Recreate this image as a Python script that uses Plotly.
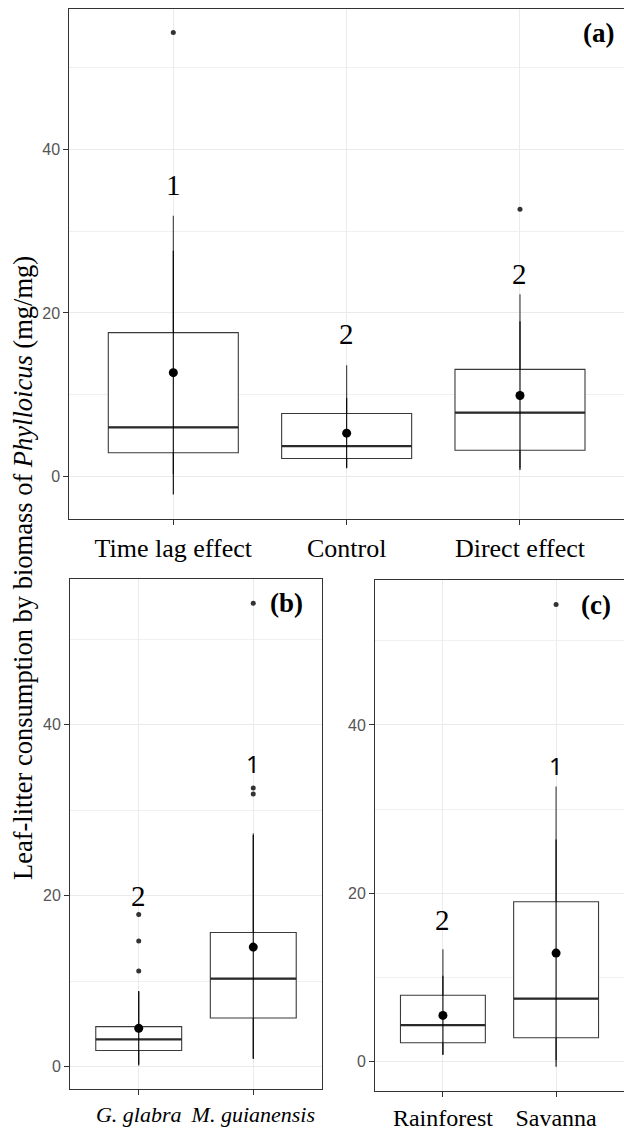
import plotly.graph_objects as go

# ---------------- data ----------------
# Panel (a)
a_cats = ["Time lag effect", "Control", "Direct effect"]
a_q1 = [2.9, 2.2, 3.2]
a_med = [6.0, 3.7, 7.8]
a_q3 = [17.6, 7.7, 13.1]
a_lo = [0.3, 1.1, 1.0]
a_hi = [31.9, 13.6, 22.3]
a_mean = [12.7, 5.3, 9.9]
a_sd = [14.9, 4.3, 9.1]
a_out = [[54.3], [], [32.7]]
a_letters = ["1", "2", "2"]
a_letter_y = [35.6, 17.4, 24.8]

# Panel (b)
b_cats = ["<i>G. glabra</i>", "<i>M. guianensis</i>"]
b_q1 = [1.9, 5.7]
b_med = [3.2, 10.3]
b_q3 = [4.7, 15.7]
b_lo = [0.3, 1.0]
b_hi = [8.8, 27.3]
b_mean = [4.5, 14.0]
b_sd = [4.35, 13.1]
b_out = [[11.2, 14.7, 17.8], [31.9, 32.6, 54.2]]
b_letters = ["2", "1"]
b_letter_y = [20.0, 35.5]

# Panel (c)
c_cats = ["Rainforest", "Savanna"]
c_q1 = [2.25, 2.85]
c_med = [4.35, 7.5]
c_q3 = [7.9, 19.0]
c_lo = [0.9, 0.2]
c_hi = [13.35, 32.7]
c_mean = [5.5, 12.9]
c_sd = [4.7, 13.5]
c_out = [[], [54.3]]
c_letters = ["2", "1"]
c_letter_y = [16.8, 35.2]

panel_tags = ["(a)", "(b)", "(c)"]
y_title = "Leaf-litter consumption by biomass of <i>Phylloicus</i> (mg/mg)"

# ---------------- figure ----------------
W, H = 624, 1131
fig = go.Figure()

BOX_LINE = "#3a3a3a"
SERIF = "Liberation Serif"
SANS = "Liberation Sans"


def add_panel(idx, q1, med, q3, lo, hi, mean, sd, outs):
    xa = "x" if idx == 1 else f"x{idx}"
    ya = "y" if idx == 1 else f"y{idx}"
    pos = list(range(1, len(q1) + 1))
    bw = 0.75
    fig.add_trace(go.Box(
        x=pos, q1=q1, median=med, q3=q3, lowerfence=lo, upperfence=hi,
        width=bw, whiskerwidth=0, boxpoints=False,
        fillcolor="white", line=dict(color=BOX_LINE, width=1.1),
        xaxis=xa, yaxis=ya, hoverinfo="skip"))
    # thicker median lines
    for p, m in zip(pos, med):
        fig.add_trace(go.Scatter(
            x=[p - bw / 2, p + bw / 2], y=[m, m], mode="lines",
            line=dict(color="#2a2a2a", width=2.3),
            xaxis=xa, yaxis=ya, hoverinfo="skip"))
    # outliers
    ox, oy = [], []
    for p, vals in zip(pos, outs):
        for v in vals:
            ox.append(p)
            oy.append(v)
    fig.add_trace(go.Scatter(
        x=ox, y=oy, mode="markers",
        marker=dict(color="#333333", size=5),
        xaxis=xa, yaxis=ya, hoverinfo="skip"))
    # mean +- sd
    fig.add_trace(go.Scatter(
        x=pos, y=mean, mode="markers",
        marker=dict(color="black", size=9),
        error_y=dict(type="data", array=sd, symmetric=True,
                     color="black", thickness=1.1, width=0),
        xaxis=xa, yaxis=ya, hoverinfo="skip"))


add_panel(1, a_q1, a_med, a_q3, a_lo, a_hi, a_mean, a_sd, a_out)
add_panel(2, b_q1, b_med, b_q3, b_lo, b_hi, b_mean, b_sd, b_out)
add_panel(3, c_q1, c_med, c_q3, c_lo, c_hi, c_mean, c_sd, c_out)


def xax(domain, anchor, cats, fsize, rng):
    return dict(
        domain=domain, anchor=anchor, range=rng, automargin=False,
        tickmode="array", tickvals=list(range(1, len(cats) + 1)), ticktext=cats,
        tickangle=0,
        showgrid=True, gridcolor="#EBEBEB", gridwidth=1,
        showline=True, linecolor="#333333", linewidth=1, mirror=True,
        ticks="outside", ticklen=5, tickcolor="#333333", tickwidth=1,
        tickfont=dict(family=SERIF, size=fsize, color="black"),
        ticklabelstandoff=0, zeroline=False, fixedrange=True)


def yax(domain, anchor, rng, mirror):
    return dict(
        domain=domain, anchor=anchor, range=rng, automargin=False,
        tickmode="linear", tick0=0, dtick=20,
        showgrid=True, gridcolor="#EBEBEB", gridwidth=1,
        minor=dict(dtick=10, tick0=0, showgrid=True, gridcolor="#F0F0F0", gridwidth=0.7),
        showline=True, linecolor="#333333", linewidth=1, mirror=mirror,
        ticks="outside", ticklen=5, tickcolor="#333333", tickwidth=1,
        tickfont=dict(family=SANS, size=16, color="#555555"),
        zeroline=False, fixedrange=True)


fig.update_layout(
    width=W, height=H,
    margin=dict(l=0, r=0, t=0, b=0, autoexpand=False),
    paper_bgcolor="white", plot_bgcolor="white",
    showlegend=False,
    xaxis=xax([69.3 / W, 1.0], "y", a_cats, 26, [0.4, 3.6]),
    yaxis=yax([1 - 519.3 / H, 1 - 9 / H], "x", [-5.24, 57.19], False),
    xaxis2=xax([70 / W, 322 / W], "y2", b_cats, 22, [0.4, 2.6]),
    yaxis2=yax([1 - 1089.3 / H, 1 - 579 / H], "x2", [-2.63, 57.04], True),
    xaxis3=xax([375 / W, 1.0], "y3", c_cats, 24, [0.4, 2.6]),
    yaxis3=yax([1 - 1090.7 / H, 1 - 580 / H], "x3", [-3.44, 57.21], False),
)

ann = []
# significance letters
for i, (t, yv) in enumerate(zip(a_letters, a_letter_y)):
    ann.append(dict(x=i + 1, y=yv, xref="x", yref="y", text=t, showarrow=False,
                    font=dict(family=SERIF, size=29, color="black")))
for i, (t, yv) in enumerate(zip(b_letters, b_letter_y)):
    fam = SERIF if t == "2" else "Noto Sans"
    sz = 29 if t == "2" else 24
    ann.append(dict(x=i + 1, y=yv, xref="x2", yref="y2", text=t, showarrow=False,
                    font=dict(family=fam, size=sz, color="black")))
for i, (t, yv) in enumerate(zip(c_letters, c_letter_y)):
    fam = SERIF if t == "2" else "Noto Sans"
    sz = 29 if t == "2" else 24
    ann.append(dict(x=i + 1, y=yv, xref="x3", yref="y3", text=t, showarrow=False,
                    font=dict(family=fam, size=sz, color="black")))
# panel tags
ann.append(dict(x=3.45, y=54.3, xref="x", yref="y", text="<b>" + panel_tags[0] + "</b>",
                showarrow=False, font=dict(family=SERIF, size=27, color="black")))
ann.append(dict(x=2.29, y=54.2, xref="x2", yref="y2", text="<b>" + panel_tags[1] + "</b>",
                showarrow=False, font=dict(family=SERIF, size=27, color="black")))
ann.append(dict(x=2.35, y=54.2, xref="x3", yref="y3", text="<b>" + panel_tags[2] + "</b>",
                showarrow=False, font=dict(family=SERIF, size=27, color="black")))
# shared y title
ann.append(dict(x=23 / W, y=1 - 568 / H, xref="paper", yref="paper", text=y_title,
                xanchor="center", yanchor="middle",
                textangle=-90, showarrow=False,
                font=dict(family=SERIF, size=26.5, color="black")))
fig.update_layout(annotations=ann)

fig.write_html("out.html")
